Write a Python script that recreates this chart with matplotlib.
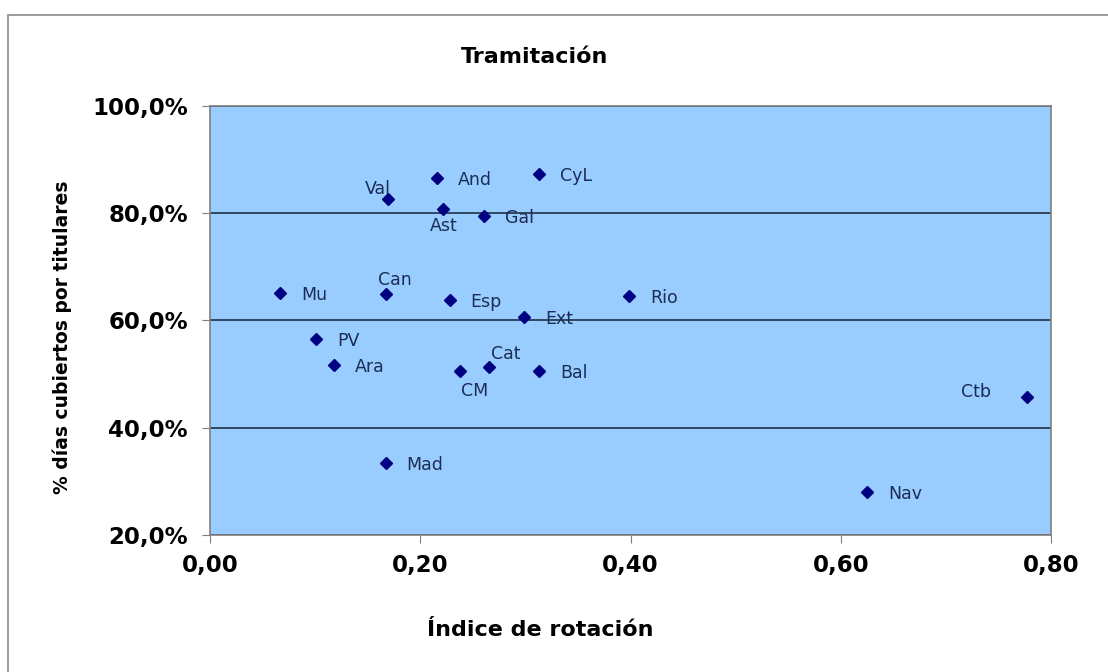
import matplotlib
matplotlib.use("Agg")
import matplotlib.pyplot as plt
from matplotlib.ticker import FuncFormatter, MultipleLocator
from matplotlib.patches import Rectangle

# ---- data ----
regiones = ["Val", "And", "CyL", "Ast", "Gal", "Mu", "Can", "Esp", "Rio", "Ext",
            "PV", "Ara", "CM", "Cat", "Bal", "Ctb", "Mad", "Nav"]
rotacion = [0.169, 0.216, 0.313, 0.222, 0.261, 0.067, 0.167, 0.228, 0.399, 0.299,
            0.101, 0.118, 0.238, 0.265, 0.313, 0.777, 0.167, 0.625]
cubiertos = [82.7, 86.6, 87.4, 80.8, 79.4, 65.1, 64.9, 63.8, 64.6, 60.6,
             56.6, 51.7, 50.6, 51.4, 50.6, 45.8, 33.4, 28.1]

# label placement (pixel offsets, alignment) - default is right of the point
pos_default = (21, -2, "left")
pos_special = {
    "Val": (3, 10, "right"),
    "Ast": (0, -17, "center"),
    "Can": (9, 14, "center"),
    "Cat": (2, 13, "left"),
    "CM": (14, -20, "center"),
    "Ctb": (-36, 5, "right"),
}

W, H = 1108, 672
fig = plt.figure(figsize=(W / 100, H / 100), dpi=100)
fig.patch.set_facecolor("white")

# chart area border
fig.patches.append(Rectangle((8 / W, -0.05), 1.2, 1 - 15 / H + 0.05,
                             transform=fig.transFigure, fill=False,
                             edgecolor="#8c8c8c", linewidth=1.2))

ax = fig.add_axes([210 / W, 1 - 535 / H, 841 / W, 429 / H])
ax.set_facecolor("#99ccff")

ax.plot(rotacion, cubiertos, linestyle="none", marker="D", markersize=6.5,
        color="#000080")

for name, xv, yv in zip(regiones, rotacion, cubiertos):
    dx, dy, ha = pos_special.get(name, pos_default)
    ax.annotate(name, (xv, yv), xytext=(dx, dy), textcoords="offset pixels",
                ha=ha, va="center", fontsize=12.5, color="#1c2d55")

ax.set_xlim(0, 0.8)
ax.set_ylim(20, 100)
ax.xaxis.set_major_locator(MultipleLocator(0.2))
ax.yaxis.set_major_locator(MultipleLocator(20))
ax.xaxis.set_major_formatter(FuncFormatter(lambda v, p: f"{v:.2f}".replace(".", ",")))
ax.yaxis.set_major_formatter(FuncFormatter(lambda v, p: f"{v:.1f}%".replace(".", ",")))

ax.yaxis.grid(True, color="#1f3046", linewidth=1.2)
ax.set_axisbelow(True)

for sp in ax.spines.values():
    sp.set_color("#7f7f7f")
    sp.set_linewidth(1.2)

ax.tick_params(axis="both", direction="out", length=6, color="#7f7f7f",
               labelsize=16.5, labelcolor="black")
ax.tick_params(axis="y", pad=10)
ax.tick_params(axis="x", pad=8)
for lab in ax.get_xticklabels() + ax.get_yticklabels():
    lab.set_fontweight("bold")

fig.text(535 / W, 1 - 57 / H, "Tramitación", ha="center", va="center",
         fontsize=16, fontweight="bold")
fig.text(540 / W, 1 - 630 / H, "Índice de rotación", ha="center", va="center",
         fontsize=16, fontweight="bold")
fig.text(62 / W, 1 - 337 / H, "% días cubiertos por titulares", ha="center",
         va="center", rotation=90, fontsize=13.5, fontweight="bold")

fig.savefig("out.png", dpi=100)
